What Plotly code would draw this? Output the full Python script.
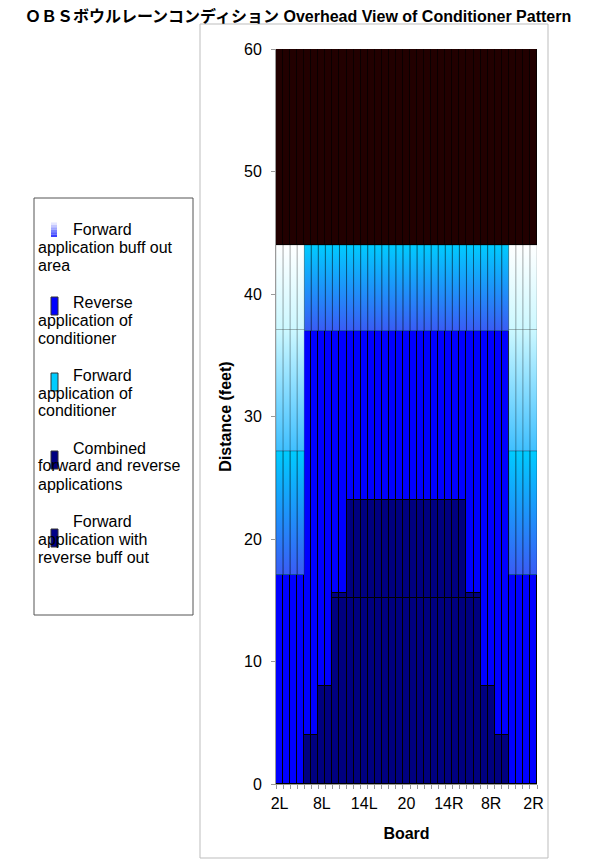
import plotly.graph_objects as go

# boards across the lane, left gutter side to right gutter side
boards = ["2L", "3L", "4L", "5L", "6L", "7L", "8L", "9L", "10L", "11L",
          "12L", "13L", "14L", "15L", "16L", "17L", "18L", "19L", "20",
          "19R", "18R", "17R", "16R", "15R", "14R", "13R", "12R", "11R",
          "10R", "9R", "8R", "7R", "6R", "5R", "4R", "3R", "2R"]
tick_boards = ["2L", "8L", "14L", "20", "14R", "8R", "2R"]

# segment lengths in feet, stacked from the foul line up
fwd_rev_buff = [0, 0, 0, 0, 4, 4, 8, 8,
                15.2, 15.2, 15.2, 15.2, 15.2, 15.2, 15.2, 15.2, 15.2, 15.2, 15.2,
                15.2, 15.2, 15.2, 15.2, 15.2, 15.2, 15.2, 15.2, 15.2, 15.2,
                8, 8, 4, 4, 0, 0, 0, 0]
combined = [0, 0, 0, 0, 0, 0, 0, 0, 0.4, 0.4,
            8, 8, 8, 8, 8, 8, 8, 8, 8, 8, 8, 8, 8, 8, 8, 8, 8,
            0.4, 0.4, 0, 0, 0, 0, 0, 0, 0, 0]
reverse = [17.1, 17.1, 17.1, 17.1, 33, 33, 29, 29, 21.4, 21.4,
           13.8, 13.8, 13.8, 13.8, 13.8, 13.8, 13.8, 13.8, 13.8, 13.8, 13.8,
           13.8, 13.8, 13.8, 13.8, 13.8, 13.8,
           21.4, 21.4, 29, 29, 33, 33, 17.1, 17.1, 17.1, 17.1]
forward = [10.1, 10.1, 10.1, 10.1,
           7, 7, 7, 7, 7, 7, 7, 7, 7, 7, 7, 7, 7, 7, 7, 7, 7, 7, 7, 7, 7,
           7, 7, 7, 7, 7, 7, 7, 7,
           10.1, 10.1, 10.1, 10.1]
buff_out = [9.9, 9.9, 9.9, 9.9,
            0, 0, 0, 0, 0, 0, 0, 0, 0, 0, 0, 0, 0, 0, 0, 0, 0, 0, 0, 0, 0,
            0, 0, 0, 0, 0, 0, 0, 0,
            9.9, 9.9, 9.9, 9.9]
buff_out_top = [6.9, 6.9, 6.9, 6.9,
                0, 0, 0, 0, 0, 0, 0, 0, 0, 0, 0, 0, 0, 0, 0, 0, 0, 0, 0, 0, 0,
                0, 0, 0, 0, 0, 0, 0, 0,
                6.9, 6.9, 6.9, 6.9]
dry = [16] * 37

FONT = "Liberation Sans, Arial, Noto Sans CJK JP"
xs = list(range(len(boards)))

# stacked series: (values, name, fill, line colour, gradient bottom->top or None)
series = [
    (fwd_rev_buff, "Forward application with reverse buff out", "#000080", "#000000", None),
    (combined, "Combined forward and reverse applications", "#000080", "#000000", None),
    (reverse, "Reverse application of conditioner", "#0000FF", "#000000", None),
    (forward, "Forward application of conditioner", "#00CCFF", "rgba(0,0,0,0.3)", ("#3A5CF5", "#00CCFF")),
    (buff_out, "Forward application buff out area", "#9AA4FF", "rgba(0,0,0,0.18)", ("#40C0FF", "#CCF8FF")),
    (buff_out_top, "Forward application buff out area", "#E8FCFF", "rgba(0,0,0,0.18)", ("#CCF8FF", "#FFFFFF")),
    (dry, "Beyond pattern", "#220000", "#0A0000", None),
]

fig = go.Figure()
base = [0.0] * len(boards)
overlays = []
for vals, name, fill, lcol, grad in series:
    fig.add_trace(go.Bar(x=xs, y=vals, name=name, customdata=boards,
                         marker=dict(color=fill, line=dict(color=lcol, width=1)),
                         hovertemplate="%{customdata}: %{y} ft<extra>" + name + "</extra>",
                         showlegend=False))
    if grad:
        # group boards with the same segment so each group gets one gradient
        groups = {}
        for i, v in enumerate(vals):
            if v > 0:
                key = (round(base[i], 2), round(base[i] + v, 2))
                groups.setdefault(key, []).append(i)
        for (b0, b1), idx in groups.items():
            px, py = [], []
            for i in idx:
                px += [i - 0.5, i + 0.5, i + 0.5, i - 0.5, i - 0.5, None]
                py += [b0, b0, b1, b1, b0, None]
            overlays.append(go.Scatter(
                x=px, y=py, mode="lines", fill="toself", hoverinfo="skip",
                line=dict(color=lcol, width=1), showlegend=False,
                fillgradient=dict(type="vertical", start=b0, stop=b1,
                                  colorscale=[[0, grad[0]], [1, grad[1]]])))
    base = [b + v for b, v in zip(base, vals)]

for tr in overlays:
    fig.add_trace(tr)


# page positions (screenshot pixels) -> paper fractions
def px2x(p):
    return (p - 276) / 261


def py2y(p):
    return (784 - p) / 735


shapes = [
    # chart area frame
    dict(type="rect", xref="paper", yref="paper", x0=px2x(200), x1=px2x(548),
         y0=py2y(858), y1=py2y(24), line=dict(color="#BDBDBD", width=1), layer="below"),
    # legend frame
    dict(type="rect", xref="paper", yref="paper", x0=px2x(34), x1=px2x(193),
         y0=py2y(615), y1=py2y(198), line=dict(color="#555555", width=1),
         fillcolor="white"),
]
annotations = []

# legend entries: text lines, symbol colour, y of first line, symbol top
legend_items = [
    (["Forward", "application buff out", "area"], None, 229, 220),
    (["Reverse", "application of", "conditioner"], "#0000FF", 302, 297),
    (["Forward", "application of", "conditioner"], "#00CCFF", 375, 373),
    (["Combined", "forward and reverse", "applications"], "#000080", 448, 451),
    (["Forward", "application with", "reverse buff out"], "#000088", 521, 529),
]
for lines, col, ly, sym_top in legend_items:
    if col is None:
        steps = ["#FFFFFF", "#E4E6FF", "#C4C8FF", "#A0A6FF", "#7A82FF", "#5A62FF", "#3A40FF"]
        h = 17 / len(steps)
        for k, c in enumerate(steps):
            shapes.append(dict(type="rect", xref="paper", yref="paper",
                               x0=px2x(51), x1=px2x(57),
                               y0=py2y(sym_top + (k + 1) * h), y1=py2y(sym_top + k * h),
                               line=dict(width=0), fillcolor=c))
    else:
        shapes.append(dict(type="rect", xref="paper", yref="paper",
                           x0=px2x(51), x1=px2x(58), y0=py2y(sym_top + 18), y1=py2y(sym_top),
                           line=dict(color="#333333", width=1), fillcolor=col))
    for k, line in enumerate(lines):
        annotations.append(dict(text=line, xref="paper", yref="paper",
                                x=px2x(71 if k == 0 else 36), y=py2y(ly + 18 * k),
                                xanchor="left", yanchor="middle", showarrow=False,
                                font=dict(family=FONT, size=16, color="black")))

fig.update_layout(
    width=592, height=853,
    margin=dict(l=268, r=63, t=41, b=77),
    paper_bgcolor="white", plot_bgcolor="white",
    barmode="stack", bargap=0,
    showlegend=False,
    font=dict(family=FONT, size=16, color="black"),
    title=dict(text="<b>ＯＢＳボウルレーンコンディション Overhead View of Conditioner Pattern</b>",
               xref="container", x=0.49, xanchor="center",
               yref="container", y=1 - 8 / 853, yanchor="middle",
               font=dict(family=FONT, size=16, color="black")),
    shapes=shapes,
    annotations=annotations,
)
fig.update_xaxes(range=[-0.5, len(boards) - 0.5], tickmode="array",
                 tickvals=[boards.index(b) for b in tick_boards], ticktext=tick_boards,
                 ticks="", ticklabelstandoff=5, showline=True, linecolor="#9A9A9A",
                 showgrid=False, zeroline=False,
                 minor=dict(tickmode="array", tickvals=[i - 0.5 for i in range(len(boards) + 1)],
                            ticks="outside", ticklen=4, tickcolor="#9A9A9A", showgrid=False),
                 title=dict(text="<b>Board</b>", standoff=16, font=dict(size=16)))
fig.update_yaxes(range=[0, 60], dtick=10, ticks="outside", ticklen=4, tickcolor="#9A9A9A",
                 ticklabelstandoff=6, showline=True, linecolor="#9A9A9A",
                 showgrid=False, zeroline=False,
                 title=dict(text="<b>Distance (feet)</b>", standoff=8, font=dict(size=16)))

fig.write_html("out.html")
